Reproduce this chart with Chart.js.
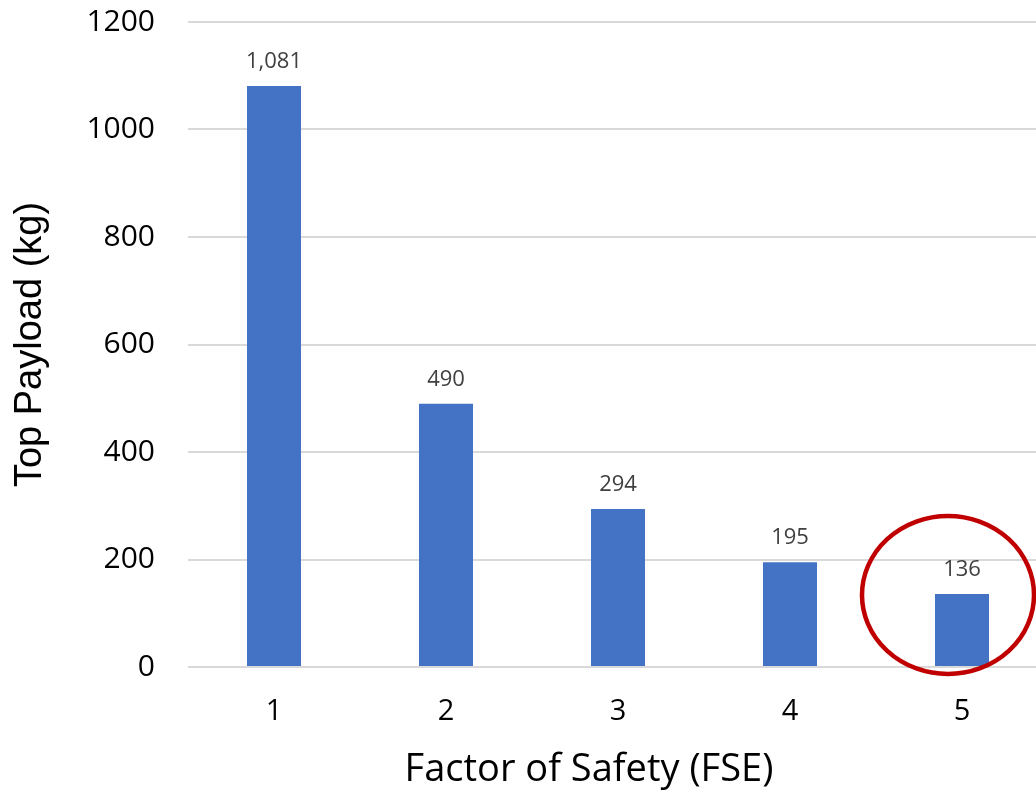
<!DOCTYPE html>
<html>
<head>
<meta charset="utf-8">
<script src="https://cdn.jsdelivr.net/npm/chart.js@4.4.1/dist/chart.umd.min.js"></script>
<style>
  html, body { margin: 0; padding: 0; background: #fff; overflow: hidden; width: 1036px; height: 794px; }
  #wrap { position: relative; width: 1050px; height: 794px; }
</style>
</head>
<body>
<div id="wrap"><canvas id="c"></canvas></div>
<script>
// Top payload for each factor of safety
const factors = ['1', '2', '3', '4', '5'];
const topPayload = [1081, 490, 294, 195, 136];

// Value axis range
const yMin = 0;
const yMax = 1200;
const yStep = 200;

const xTitle = 'Factor of Safety (FSE)';
const yTitle = 'Top Payload (kg)';

// The bar that gets circled
const highlightIndex = 4;
const highlightCenterValue = 134;

const FONT = "'Open Sans', 'DejaVu Sans', sans-serif";

// Number printed above each bar
const valueLabels = {
  id: 'valueLabels',
  afterDatasetsDraw(chart) {
    const { ctx } = chart;
    const meta = chart.getDatasetMeta(0);
    ctx.save();
    ctx.font = `22px ${FONT}`;
    ctx.fillStyle = '#404040';
    ctx.textAlign = 'center';
    ctx.textBaseline = 'bottom';
    meta.data.forEach((bar, i) => {
      const v = chart.data.datasets[0].data[i];
      ctx.fillText(v.toLocaleString('en-US'), bar.x, bar.y - 13);
    });
    ctx.restore();
  }
};

// Category axis title, drawn below the tick labels
const xAxisTitle = {
  id: 'xAxisTitle',
  afterDraw(chart) {
    const { ctx, chartArea } = chart;
    ctx.save();
    ctx.font = `38px ${FONT}`;
    ctx.fillStyle = '#000';
    ctx.textAlign = 'center';
    ctx.textBaseline = 'middle';
    ctx.fillText(xTitle, (chartArea.left + chartArea.right) / 2 - 29, chart.height - 24);
    ctx.restore();
  }
};

// Red ring around the highlighted bar
const highlightRing = {
  id: 'highlightRing',
  afterDraw(chart) {
    const { ctx } = chart;
    const bar = chart.getDatasetMeta(0).data[highlightIndex];
    const cy = chart.scales.y.getPixelForValue(highlightCenterValue);
    ctx.save();
    ctx.beginPath();
    ctx.ellipse(bar.x - 14, cy, 86, 79, 0, 0, Math.PI * 2);
    ctx.lineWidth = 4.5;
    ctx.strokeStyle = '#C00000';
    ctx.stroke();
    ctx.restore();
  }
};

new Chart(document.getElementById('c'), {
  type: 'bar',
  data: {
    labels: factors,
    datasets: [{
      data: topPayload,
      backgroundColor: '#4472C4',
      borderWidth: 0,
      barPercentage: 0.314,
      categoryPercentage: 1
    }]
  },
  options: {
    responsive: true,
    maintainAspectRatio: false,
    animation: false,
    events: [],
    layout: { padding: { top: 22, right: 2, left: 0, bottom: 0 } },
    plugins: {
      legend: { display: false },
      tooltip: { enabled: false }
    },
    scales: {
      x: {
        grid: { display: false, drawTicks: false },
        border: { display: false },
        ticks: {
          color: '#000',
          font: { family: FONT, size: 29 },
          padding: 27
        },
        afterFit(scale) {
          scale.height = 127;
          scale.paddingLeft = 0;
          scale.paddingRight = 0;
        }
      },
      y: {
        min: yMin,
        max: yMax,
        grid: { color: '#d9d9d9', lineWidth: 2, drawTicks: false },
        border: { display: false },
        ticks: {
          stepSize: yStep,
          color: '#000',
          font: { family: FONT, size: 30 },
          padding: 33,
          callback: (v) => String(v)
        },
        title: {
          display: true,
          text: yTitle,
          color: '#000',
          font: { family: "'Liberation Sans', Arial, sans-serif", size: 38 },
          padding: { top: 8, bottom: 0 }
        },
        afterFit(scale) {
          scale.width = 188;
          scale.paddingTop = 0;
          scale.paddingBottom = 0;
        }
      }
    }
  },
  plugins: [valueLabels, xAxisTitle, highlightRing]
});
</script>
</body>
</html>
